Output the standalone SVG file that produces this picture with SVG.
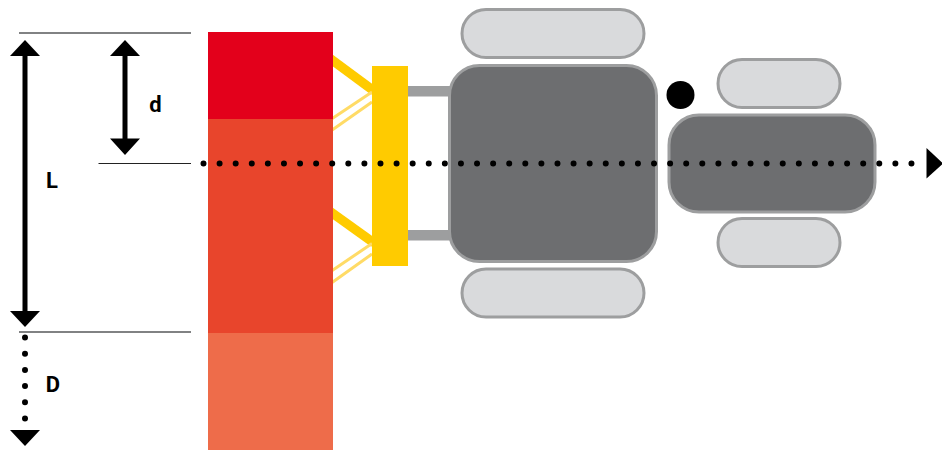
<svg xmlns="http://www.w3.org/2000/svg" width="942" height="450" viewBox="0 0 942 450">
<style>
.tyre{fill:#d9dadc;stroke:#9d9e9f;stroke-width:3}
.body{fill:#6d6e70;stroke:#9d9e9f;stroke-width:3}
.arm{stroke:#ffcb00;stroke-width:9.500;fill:none}
.thin{stroke:#ffdb66;stroke-width:3;fill:none}
.rule{stroke:#58595b;fill:none}
.dim{stroke:#000;stroke-width:5;fill:none}
.dots{stroke:#000;stroke-width:6;stroke-linecap:round;fill:none}
.head{fill:#000}
.lbl{font-family:Roboto,"Liberation Sans",sans-serif;font-size:22px;font-weight:700;fill:#000;text-anchor:middle}
</style>
<g id="hitch-top">
<path class="arm" d="M328 57L374 91"/>
<path class="thin" d="M330 120L372 92M330 131.500L372 102"/>
</g>
<g id="hitch-bottom">
<path class="arm" d="M328 210L374 243"/>
<path class="thin" d="M330 272L372 243.500M330 284L372 254"/>
</g>
<g id="zones">
<rect id="zone-d" x="208" y="32" width="125" height="87" fill="#e3001b"/>
<rect id="zone-l" x="208" y="119" width="125" height="214" fill="#e8452c"/>
<rect id="zone-D" x="208" y="333" width="125" height="117" fill="#ee6c4a"/>
</g>
<g id="mower-bar"><rect x="372" y="66" width="36" height="200" fill="#ffcb00"/></g>
<g id="links">
<rect x="408" y="86" width="42" height="10.500" fill="#9d9e9f"/>
<rect x="408" y="230" width="42" height="10.500" fill="#9d9e9f"/>
</g>
<g id="tyre-rear-top"><rect class="tyre" x="462" y="9.500" width="182" height="48" rx="24"/></g>
<g id="tyre-rear-bottom"><rect class="tyre" x="462" y="269" width="182" height="48" rx="24"/></g>
<g id="tractor-rear"><rect class="body" x="449.500" y="65.500" width="207" height="196" rx="30"/></g>
<g id="tyre-front-top"><rect class="tyre" x="718" y="59.500" width="122" height="48" rx="24"/></g>
<g id="tyre-front-bottom"><rect class="tyre" x="718" y="218.500" width="122" height="48" rx="24"/></g>
<g id="tractor-front"><rect class="body" x="669" y="115" width="206" height="97" rx="30"/></g>
<g id="pivot"><circle cx="680.500" cy="95" r="14" fill="#000"/></g>
<g id="connectors">
<path class="rule" stroke-width="1.500" d="M19 33H191M19 332H191"/>
<path class="rule" style="stroke:#222" stroke-width="1" d="M98.500 163.500H191"/>
<path class="dim" d="M25 52V314"/>
<path class="head" d="M25 40L40 56H10ZM25 327L40 311H10Z"/>
<path class="dim" d="M125 52V142"/>
<path class="head" d="M125 40L140 56H110ZM125 155L140 138.500H110Z"/>
<path class="dots" stroke-dasharray="0 16.090" d="M203.500 163.500H915"/>
<path class="head" d="M926.500 148L943 163.500L926.500 178.500Z"/>
<path class="dots" stroke-dasharray="0 16.200" d="M25 337.500V420"/>
<path class="head" d="M25 446L40 430H10Z"/>
</g>
<g id="labels">
<text class="lbl" x="155.500" y="112">d</text>
<text class="lbl" x="52" y="188">L</text>
<text class="lbl" x="53" y="391.500">D</text>
</g>
</svg>
